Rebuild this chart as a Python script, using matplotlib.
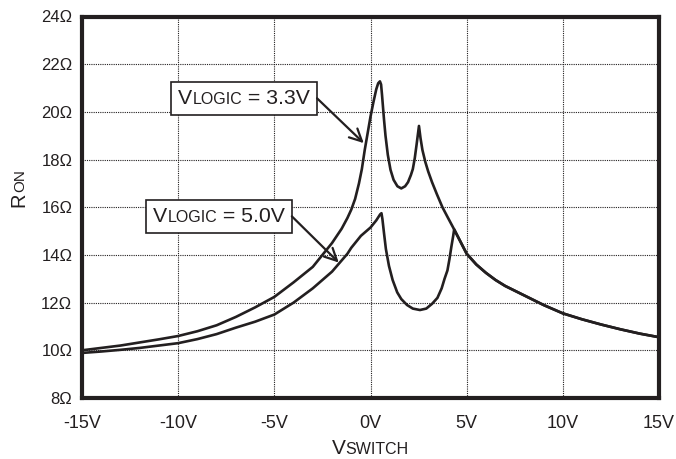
import matplotlib
matplotlib.use('agg')
import matplotlib.pyplot as plt
from matplotlib.offsetbox import TextArea, HPacker, AnnotationBbox

plt.rcParams['font.family'] = ['Liberation Sans', 'DejaVu Sans']

INK = '#231f20'

# RON vs VSWITCH
x_33 = [-15, -14, -13, -12, -11, -10, -9, -8, -7, -6, -5, -4, -3, -2.5, -2, -1.5, -1.2, -1, -0.8, -0.6,
        -0.45, -0.3, -0.15, 0, 0.15, 0.3, 0.4, 0.49, 0.55, 0.6, 0.65, 0.7, 0.78, 0.9, 1.04, 1.2, 1.4,
        1.6, 1.8, 1.95, 2.1, 2.2, 2.3, 2.4, 2.52, 2.6, 2.7, 2.85, 3.0, 3.2, 3.45, 3.74, 4.0, 4.35,
        5, 5.5, 6, 6.5, 7, 8, 9, 10, 11, 12, 13, 14, 15]
r_33 = [10.0, 10.1, 10.2, 10.33, 10.46, 10.6, 10.8, 11.05, 11.4, 11.8, 12.24, 12.85, 13.5, 14.0, 14.5, 15.1, 15.55, 15.9, 16.35, 17.0,
        17.6, 18.4, 19.1, 19.8, 20.4, 20.95, 21.2, 21.28, 21.15, 20.7, 20.2, 19.7, 19.0, 18.2, 17.57, 17.15, 16.88,
        16.79, 16.88, 17.05, 17.35, 17.6, 18.05, 18.65, 19.41, 18.9, 18.4, 17.9, 17.5, 17.05, 16.55, 16.0, 15.6, 15.07,
        14.05, 13.6, 13.25, 12.95, 12.7, 12.3, 11.9, 11.55, 11.3, 11.08, 10.88, 10.7, 10.55]

x_50 = [-15, -14, -13, -12, -11, -10, -9, -8, -7, -6, -5, -4, -3, -2, -1.2, -1, -0.5, 0, 0.3, 0.5, 0.57,
        0.62, 0.7, 0.8, 0.96, 1.15, 1.39, 1.6, 1.9, 2.2, 2.57, 2.9, 3.2, 3.48, 3.7, 3.85, 4.0, 4.1, 4.21, 4.3,
        4.35, 5, 5.5, 6, 6.5, 7, 8, 9, 10, 11, 12, 13, 14, 15]
r_50 = [9.89, 9.95, 10.02, 10.1, 10.2, 10.3, 10.47, 10.68, 10.95, 11.2, 11.5, 12.0, 12.6, 13.3, 14.05, 14.3, 14.8, 15.15, 15.45, 15.7, 15.75,
        15.5, 14.93, 14.25, 13.54, 12.95, 12.43, 12.15, 11.9, 11.75, 11.69, 11.75, 11.95, 12.2, 12.6, 13.0, 13.35, 13.8, 14.37, 14.8,
        15.07, 14.05, 13.6, 13.25, 12.95, 12.7, 12.3, 11.9, 11.55, 11.3, 11.08, 10.88, 10.7, 10.55]

xticks = [-15, -10, -5, 0, 5, 10, 15]
yticks = [8, 10, 12, 14, 16, 18, 20, 22, 24]

fig = plt.figure(figsize=(6.76, 4.59), dpi=100)
ax = fig.add_axes([82/676, 1-398/459, 577/676, 381.5/459])

ax.plot(x_33, r_33, color=INK, lw=1.9, solid_joinstyle='round')
ax.plot(x_50, r_50, color=INK, lw=1.9, solid_joinstyle='round')

ax.set_xlim(-15, 15)
ax.set_ylim(8, 24)
ax.set_xticks(xticks)
ax.set_yticks(yticks)
ax.set_xticklabels(['{}V'.format(v) for v in xticks])
ax.set_yticklabels(['{}\u03a9'.format(v) for v in yticks])
ax.tick_params(axis='both', length=0, colors=INK)
ax.tick_params(axis='x', pad=12, labelsize=13)
ax.tick_params(axis='y', pad=7, labelsize=12)
ax.grid(True, color=INK, linestyle=(0, (1, 1)), lw=0.8)
for s in ax.spines.values():
    s.set_linewidth(3.0)
    s.set_color(INK)


def small_caps(big, small, rest, bs, ss):
    parts = [TextArea(big, textprops=dict(fontsize=bs, color=INK)),
             TextArea(small, textprops=dict(fontsize=ss, color=INK))]
    if rest:
        parts.append(TextArea(rest, textprops=dict(fontsize=bs, color=INK)))
    return HPacker(children=parts, align='baseline', pad=0, sep=0)


# (small caps part, rest, arrow start on box right edge, arrow tip)
labels = [('LOGIC', ' = 3.3V', (-2.78, 20.57), (-0.35, 18.69)),
          ('LOGIC', ' = 5.0V', (-4.09, 15.62), (-1.65, 13.68))]
for small, rest, start, tip in labels:
    ab = AnnotationBbox(small_caps('V', small, rest, 15.3, 11.5), start, xycoords='data',
                        xybox=(-5, 0), boxcoords='offset points',
                        box_alignment=(1, 0.5), pad=0.5,
                        bboxprops=dict(fc='white', ec=INK, lw=1.2))
    ax.add_artist(ab)
    ax.annotate('', xy=tip, xytext=start,
                arrowprops=dict(arrowstyle='->', color=INK, lw=1.6, mutation_scale=22,
                                shrinkA=0, shrinkB=0))

# axis titles with small caps
xl = AnnotationBbox(small_caps('V', 'SWITCH', '', 15, 11.5), (370/676, 1-449/459),
                    xycoords='figure fraction', box_alignment=(0.5, 0.5), frameon=False)
fig.add_artist(xl)
fig.text(24/676, 1-207/459, 'R', rotation=90, rotation_mode='anchor', ha='left', va='baseline',
         fontsize=14.5, color=INK)
fig.text(24/676, 1-192/459, 'ON', rotation=90, rotation_mode='anchor', ha='left', va='baseline',
         fontsize=11, color=INK)

plt.savefig('out.png', dpi=100)
